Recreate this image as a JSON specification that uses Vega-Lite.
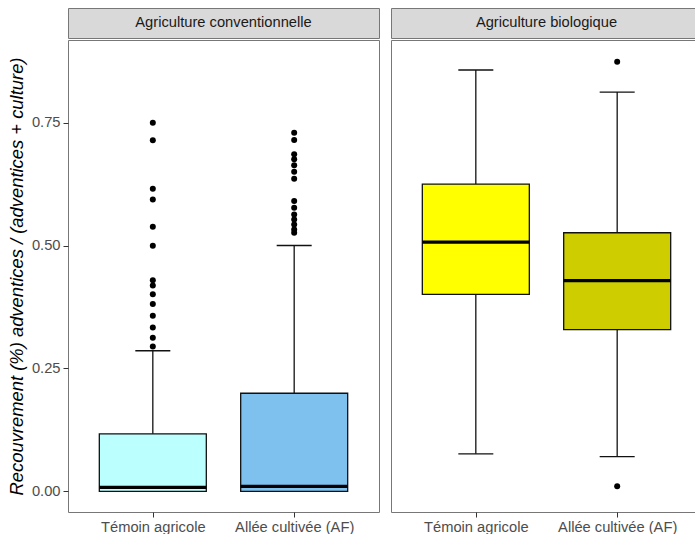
{
  "$schema": "https://vega.github.io/schema/vega-lite/v6.json",
  "background": "white",
  "padding": {"left": 6, "top": 7, "right": 0, "bottom": 0},
  "config": {
    "font": "Liberation Sans",
    "view": {"stroke": null},
    "concat": {"spacing": 0}
  },
  "datasets": {
    "strips": [
      {"system": "Agriculture conventionnelle"},
      {"system": "Agriculture biologique"}
    ],
    "stats": [
      {"system": "Agriculture conventionnelle", "treatment": "Témoin agricole", "lower": 0, "q1": 0, "median": 0.008, "q3": 0.117, "upper": 0.286},
      {"system": "Agriculture conventionnelle", "treatment": "Allée cultivée (AF)", "lower": 0, "q1": 0, "median": 0.01, "q3": 0.1995, "upper": 0.5},
      {"system": "Agriculture biologique", "treatment": "Témoin agricole", "lower": 0.0764, "q1": 0.4007, "median": 0.507, "q3": 0.625, "upper": 0.857},
      {"system": "Agriculture biologique", "treatment": "Allée cultivée (AF)", "lower": 0.0708, "q1": 0.329, "median": 0.4285, "q3": 0.526, "upper": 0.812}
    ],
    "outliers": [
      {"system": "Agriculture conventionnelle", "treatment": "Témoin agricole", "value": 0.7498},
      {"system": "Agriculture conventionnelle", "treatment": "Témoin agricole", "value": 0.714},
      {"system": "Agriculture conventionnelle", "treatment": "Témoin agricole", "value": 0.6154},
      {"system": "Agriculture conventionnelle", "treatment": "Témoin agricole", "value": 0.5938},
      {"system": "Agriculture conventionnelle", "treatment": "Témoin agricole", "value": 0.5381},
      {"system": "Agriculture conventionnelle", "treatment": "Témoin agricole", "value": 0.4994},
      {"system": "Agriculture conventionnelle", "treatment": "Témoin agricole", "value": 0.4295},
      {"system": "Agriculture conventionnelle", "treatment": "Témoin agricole", "value": 0.4188},
      {"system": "Agriculture conventionnelle", "treatment": "Témoin agricole", "value": 0.4011},
      {"system": "Agriculture conventionnelle", "treatment": "Témoin agricole", "value": 0.3813},
      {"system": "Agriculture conventionnelle", "treatment": "Témoin agricole", "value": 0.3569},
      {"system": "Agriculture conventionnelle", "treatment": "Témoin agricole", "value": 0.3333},
      {"system": "Agriculture conventionnelle", "treatment": "Témoin agricole", "value": 0.3122},
      {"system": "Agriculture conventionnelle", "treatment": "Témoin agricole", "value": 0.2946},
      {"system": "Agriculture conventionnelle", "treatment": "Allée cultivée (AF)", "value": 0.7294},
      {"system": "Agriculture conventionnelle", "treatment": "Allée cultivée (AF)", "value": 0.7146},
      {"system": "Agriculture conventionnelle", "treatment": "Allée cultivée (AF)", "value": 0.6855},
      {"system": "Agriculture conventionnelle", "treatment": "Allée cultivée (AF)", "value": 0.6753},
      {"system": "Agriculture conventionnelle", "treatment": "Allée cultivée (AF)", "value": 0.6631},
      {"system": "Agriculture conventionnelle", "treatment": "Allée cultivée (AF)", "value": 0.65},
      {"system": "Agriculture conventionnelle", "treatment": "Allée cultivée (AF)", "value": 0.6358},
      {"system": "Agriculture conventionnelle", "treatment": "Allée cultivée (AF)", "value": 0.5904},
      {"system": "Agriculture conventionnelle", "treatment": "Allée cultivée (AF)", "value": 0.5767},
      {"system": "Agriculture conventionnelle", "treatment": "Allée cultivée (AF)", "value": 0.5633},
      {"system": "Agriculture conventionnelle", "treatment": "Allée cultivée (AF)", "value": 0.5531},
      {"system": "Agriculture conventionnelle", "treatment": "Allée cultivée (AF)", "value": 0.543},
      {"system": "Agriculture conventionnelle", "treatment": "Allée cultivée (AF)", "value": 0.5328},
      {"system": "Agriculture conventionnelle", "treatment": "Allée cultivée (AF)", "value": 0.5259},
      {"system": "Agriculture biologique", "treatment": "Allée cultivée (AF)", "value": 0.874},
      {"system": "Agriculture biologique", "treatment": "Allée cultivée (AF)", "value": 0.0104}
    ]
  },
  "resolve": {"scale": {"x": "independent", "y": "independent", "fill": "independent"}},
  "spacing": 10,
  "hconcat": [
    {
      "spacing": 0,
      "vconcat": [
        {
          "data": {"name": "strips"},
          "transform": [{"filter": "datum.system == 'Agriculture conventionnelle'"}],
          "width": 311,
          "height": 30,
          "view": {"fill": "#D9D9D9", "stroke": "#777777", "strokeWidth": 1},
          "mark": {"type": "text", "fontSize": 14.7, "color": "#1A1A1A", "baseline": "middle", "align": "center"},
          "encoding": {"text": {"field": "system", "type": "nominal"}}
        },
        {
          "width": 311,
          "height": 472,
          "view": {"stroke": "#777777", "strokeWidth": 1},
          "encoding": {
            "x": {
              "field": "treatment", "type": "nominal",
              "sort": ["Témoin agricole", "Allée cultivée (AF)"],
              "scale": {"type": "point", "padding": 0.6},
              "axis": {"title": null, "labelAngle": 0, "labelFontSize": 14.7, "labelColor": "#4D4D4D", "tickColor": "#333333", "tickSize": 5, "labelPadding": 2, "domain": false, "grid": false}
            }
          },
          "layer": [
            {
              "data": {"name": "stats"},
              "transform": [{"filter": "datum.system == 'Agriculture conventionnelle'"}],
              "mark": {"type": "rule", "color": "#111111", "strokeWidth": 1.3, "opacity": 1},
              "encoding": {
                "y": {
                  "field": "lower", "type": "quantitative",
                  "title": "Recouvrement (%) adventices / (adventices + culture)",
                  "scale": {"domain": [-0.042, 0.918], "nice": false, "zero": false},
                  "axis": {"values": [0, 0.25, 0.5, 0.75], "format": ".2f", "labelFontSize": 14.7, "labelColor": "#4D4D4D", "tickColor": "#333333", "tickSize": 5, "labelPadding": 3, "domain": false, "grid": false, "titleFontSize": 18.4, "titleFontStyle": "italic", "titleFontWeight": "normal", "titleColor": "#000000", "titlePadding": 5}
                },
                "y2": {"field": "upper"}
              }
            },
            {
              "data": {"name": "stats"},
              "transform": [{"filter": "datum.system == 'Agriculture conventionnelle'"}],
              "mark": {"type": "tick", "color": "#111111", "size": 35, "thickness": 1.3, "opacity": 1},
              "encoding": {"y": {"field": "upper", "type": "quantitative", "title": "Recouvrement (%) adventices / (adventices + culture)"}}
            },
            {
              "data": {"name": "stats"},
              "transform": [{"filter": "datum.system == 'Agriculture conventionnelle'"}],
              "mark": {"type": "bar", "size": 107, "stroke": "#111111", "strokeWidth": 1.3, "opacity": 1},
              "encoding": {
                "y": {"field": "q1", "type": "quantitative", "title": "Recouvrement (%) adventices / (adventices + culture)"},
                "y2": {"field": "q3"},
                "fill": {"field": "treatment", "type": "nominal", "scale": {"domain": ["Témoin agricole", "Allée cultivée (AF)"], "range": ["#BBFFFF", "#7EC0EE"]}, "legend": null}
              }
            },
            {
              "data": {"name": "stats"},
              "transform": [{"filter": "datum.system == 'Agriculture conventionnelle'"}],
              "mark": {"type": "tick", "color": "#000000", "size": 107, "thickness": 3.2, "opacity": 1},
              "encoding": {"y": {"field": "median", "type": "quantitative", "title": "Recouvrement (%) adventices / (adventices + culture)"}}
            },
            {
              "data": {"name": "outliers"},
              "transform": [{"filter": "datum.system == 'Agriculture conventionnelle'"}],
              "mark": {"type": "circle", "color": "#000000", "size": 36, "opacity": 1},
              "encoding": {"y": {"field": "value", "type": "quantitative", "title": "Recouvrement (%) adventices / (adventices + culture)"}}
            }
          ]
        }
      ]
    },
    {
      "spacing": 0,
      "vconcat": [
        {
          "data": {"name": "strips"},
          "transform": [{"filter": "datum.system == 'Agriculture biologique'"}],
          "width": 311,
          "height": 30,
          "view": {"fill": "#D9D9D9", "stroke": "#777777", "strokeWidth": 1},
          "mark": {"type": "text", "fontSize": 14.7, "color": "#1A1A1A", "baseline": "middle", "align": "center"},
          "encoding": {"text": {"field": "system", "type": "nominal"}}
        },
        {
          "width": 311,
          "height": 472,
          "view": {"stroke": "#777777", "strokeWidth": 1},
          "encoding": {
            "x": {
              "field": "treatment", "type": "nominal",
              "sort": ["Témoin agricole", "Allée cultivée (AF)"],
              "scale": {"type": "point", "padding": 0.6},
              "axis": {"title": null, "labelAngle": 0, "labelFontSize": 14.7, "labelColor": "#4D4D4D", "tickColor": "#333333", "tickSize": 5, "labelPadding": 2, "domain": false, "grid": false}
            }
          },
          "layer": [
            {
              "data": {"name": "stats"},
              "transform": [{"filter": "datum.system == 'Agriculture biologique'"}],
              "mark": {"type": "rule", "color": "#111111", "strokeWidth": 1.3, "opacity": 1},
              "encoding": {
                "y": {"field": "lower", "type": "quantitative", "scale": {"domain": [-0.042, 0.918], "nice": false, "zero": false}, "axis": null},
                "y2": {"field": "upper"}
              }
            },
            {
              "data": {"name": "stats"},
              "transform": [{"filter": "datum.system == 'Agriculture biologique'"}],
              "mark": {"type": "tick", "color": "#111111", "size": 35, "thickness": 1.3, "opacity": 1},
              "encoding": {"y": {"field": "upper", "type": "quantitative", "axis": null}}
            },
            {
              "data": {"name": "stats"},
              "transform": [{"filter": "datum.system == 'Agriculture biologique'"}],
              "mark": {"type": "tick", "color": "#111111", "size": 35, "thickness": 1.3, "opacity": 1},
              "encoding": {"y": {"field": "lower", "type": "quantitative", "axis": null}}
            },
            {
              "data": {"name": "stats"},
              "transform": [{"filter": "datum.system == 'Agriculture biologique'"}],
              "mark": {"type": "bar", "size": 107, "stroke": "#111111", "strokeWidth": 1.3, "opacity": 1},
              "encoding": {
                "y": {"field": "q1", "type": "quantitative", "axis": null},
                "y2": {"field": "q3"},
                "fill": {"field": "treatment", "type": "nominal", "scale": {"domain": ["Témoin agricole", "Allée cultivée (AF)"], "range": ["#FFFF00", "#CDCD00"]}, "legend": null}
              }
            },
            {
              "data": {"name": "stats"},
              "transform": [{"filter": "datum.system == 'Agriculture biologique'"}],
              "mark": {"type": "tick", "color": "#000000", "size": 107, "thickness": 3.2, "opacity": 1},
              "encoding": {"y": {"field": "median", "type": "quantitative", "axis": null}}
            },
            {
              "data": {"name": "outliers"},
              "transform": [{"filter": "datum.system == 'Agriculture biologique'"}],
              "mark": {"type": "circle", "color": "#000000", "size": 36, "opacity": 1},
              "encoding": {"y": {"field": "value", "type": "quantitative", "axis": null}}
            }
          ]
        }
      ]
    }
  ]
}
